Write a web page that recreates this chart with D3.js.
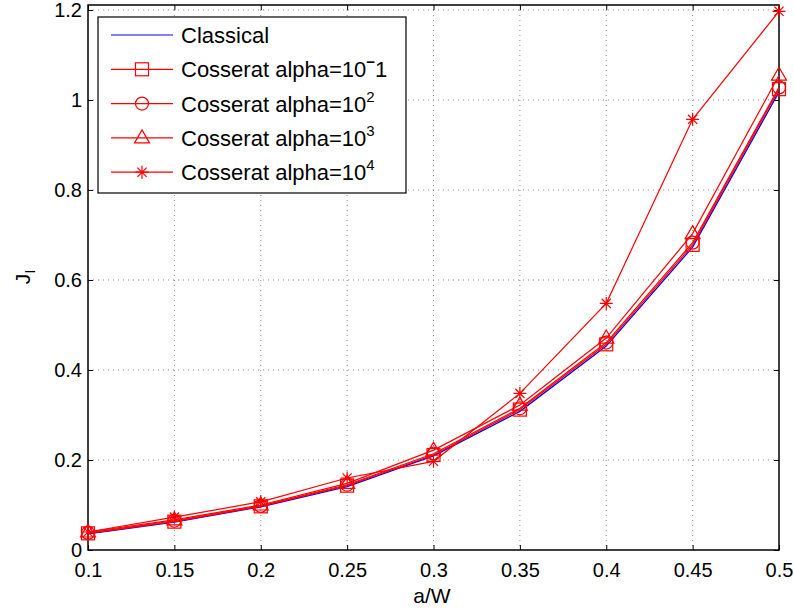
<!DOCTYPE html>
<html><head><meta charset="utf-8">
<script src="https://cdnjs.cloudflare.com/ajax/libs/d3/7.8.5/d3.min.js"></script>
<style>body{margin:0;background:#fff;} svg{display:block;font-family:"Liberation Sans",Arial,sans-serif;}</style>
</head><body><svg id="c" width="794" height="611"></svg>
<script>
const aW = [0.1,0.15,0.2,0.25,0.3,0.35,0.4,0.45,0.5];
const classical = [0.036,0.062,0.096,0.141,0.209,0.308,0.453,0.673,1.018];
const alphaM1  = [0.037,0.063,0.097,0.143,0.211,0.312,0.457,0.678,1.024];
const alpha2   = [0.038,0.065,0.098,0.145,0.214,0.315,0.461,0.683,1.028];
const alpha3   = [0.040,0.067,0.100,0.148,0.222,0.322,0.471,0.703,1.055];
const alpha4   = [0.040,0.073,0.107,0.160,0.197,0.348,0.548,0.957,1.197];
const xTicks = [0.1,0.15,0.2,0.25,0.3,0.35,0.4,0.45,0.5];
const yTicks = [0,0.2,0.4,0.6,0.8,1,1.2];

const svg = d3.select("#c");
const L=88,R=779,T=5,B=550;
const x = d3.scaleLinear().domain([0.1,0.5]).range([L,R]);
const y = d3.scaleLinear().domain([0,1.211]).range([B,T]);

// grid
const g = svg.append("g");
xTicks.forEach(t=>{ if(t>0.1 && t<0.5) g.append("line").attr("x1",x(t)).attr("x2",x(t)).attr("y1",T).attr("y2",B)
  .attr("stroke","#888").attr("stroke-width",1).attr("stroke-dasharray","1,4");});
yTicks.forEach(t=>{ if(t>0) g.append("line").attr("y1",y(t)).attr("y2",y(t)).attr("x1",L).attr("x2",R)
  .attr("stroke","#888").attr("stroke-width",1).attr("stroke-dasharray","1,4");});

// axes
const fs = 20;
const xa = svg.append("g").attr("transform",`translate(0,${B})`).call(d3.axisBottom(x).tickValues(xTicks).tickFormat(d3.format("")).tickSizeInner(-5).tickSizeOuter(0).tickPadding(13));
const xt = svg.append("g").attr("transform",`translate(0,${T})`).call(d3.axisTop(x).tickValues(xTicks).tickFormat("").tickSizeInner(-5).tickSizeOuter(0));
const ya = svg.append("g").attr("transform",`translate(${L},0)`).call(d3.axisLeft(y).tickValues(yTicks).tickFormat(d3.format("")).tickSizeInner(-5).tickSizeOuter(0).tickPadding(6));
const yr = svg.append("g").attr("transform",`translate(${R},0)`).call(d3.axisRight(y).tickValues(yTicks).tickFormat("").tickSizeInner(-5).tickSizeOuter(0));
[xa,xt,ya,yr].forEach(a=>{a.attr("font-size",fs).attr("font-family","Liberation Sans, Arial, sans-serif"); a.select(".domain").remove(); a.selectAll("line").attr("stroke","#000"); a.selectAll("text").attr("fill","#000");});
svg.append("rect").attr("x",L).attr("y",T).attr("width",R-L).attr("height",B-T).attr("fill","none").attr("stroke","#000").attr("stroke-width",1.5);

// series
const line = d3.line().x((d,i)=>x(aW[i])).y(d=>y(d));
svg.append("path").datum(classical).attr("d",line).attr("fill","none").attr("stroke","#0000ff").attr("stroke-width",1.3);
const red="#ff0000";
function marker(sel,type,cx,cy){
  const s=sel.append("g").attr("transform",`translate(${cx},${cy})`).attr("fill","none").attr("stroke",red).attr("stroke-width",1.2);
  if(type==="square") s.append("rect").attr("x",-6.5).attr("y",-6.5).attr("width",13).attr("height",13);
  if(type==="circle") s.append("circle").attr("r",6.5);
  if(type==="tri") s.append("path").attr("d","M0,-8L7.5,5L-7.5,5Z");
  if(type==="star"){ s.append("path").attr("d","M-6.5,0H6.5M0,-6.5V6.5M-4.6,-4.6L4.6,4.6M-4.6,4.6L4.6,-4.6"); }
}
const series=[[alphaM1,"square"],[alpha2,"circle"],[alpha3,"tri"],[alpha4,"star"]];
series.forEach(([vals,type])=>{
  svg.append("path").datum(vals).attr("d",line).attr("fill","none").attr("stroke",red).attr("stroke-width",1.2);
  vals.forEach((v,i)=>marker(svg,type,x(aW[i]),y(v)));
});

// labels
svg.append("text").attr("x",432).attr("y",603).attr("text-anchor","middle").attr("font-size",21).text("a/W");
const yl = svg.append("text").attr("transform","translate(30,277) rotate(-90)").attr("text-anchor","middle").attr("font-size",21);
yl.append("tspan").text("J");
yl.append("tspan").attr("dy",5).attr("font-size",15).text("I");

// legend
const leg = svg.append("g");
leg.append("rect").attr("x",98).attr("y",17).attr("width",308).attr("height",176).attr("fill","#fff").attr("stroke","#000").attr("stroke-width",1.2);
const legRows = [["Classical",null,null],["Cosserat alpha=10","-","1"],["Cosserat alpha=10","2",""],["Cosserat alpha=10","3",""],["Cosserat alpha=10","4",""]];
const legTypes=[null,"square","circle","tri","star"];
legRows.forEach((r,i)=>{
  const cy=35+i*34.3;
  leg.append("line").attr("x1",111).attr("x2",173).attr("y1",cy).attr("y2",cy).attr("stroke",i===0?"#0000ff":red).attr("stroke-width",1.2);
  if(legTypes[i]) marker(leg,legTypes[i],142,cy);
  const t=leg.append("text").attr("x",181).attr("y",cy+8).attr("font-size",22).attr("fill","#000");
  t.append("tspan").text(r[0]);
  if(r[1]!==null){
    if(r[1]==="-"){ t.append("tspan").attr("dy",-10).attr("font-size",15).attr("font-weight","bold").text("\u2212"); t.append("tspan").attr("dy",10).attr("font-size",22).text(r[2]); }
    else t.append("tspan").attr("dy",-10).attr("font-size",15).text(r[1]);
  }
});
</script></body></html>
